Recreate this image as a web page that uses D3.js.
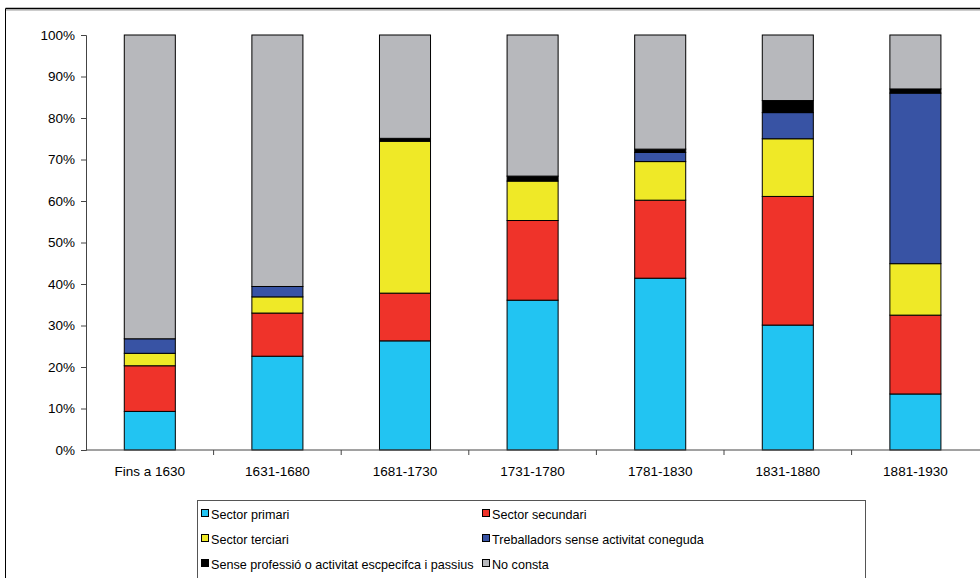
<!DOCTYPE html>
<html><head><meta charset="utf-8">
<script src="https://cdn.jsdelivr.net/npm/d3@7/dist/d3.min.js"></script>
<style>body{margin:0;background:#fff}svg{display:block;font-family:"Liberation Sans",Arial,sans-serif}</style>
</head><body><svg id="c" width="980" height="578"></svg>
<script>
const categories = ["Fins a 1630","1631-1680","1681-1730","1731-1780","1781-1830","1831-1880","1881-1930"];
const seriesNames = ["Sector primari","Sector secundari","Sector terciari","Treballadors sense activitat coneguda","Sense professió o activitat escpecífca i passius","No consta"];
const legendLabels = ["Sector primari","Sector secundari","Sector terciari","Treballadors sense activitat coneguda","Sense professió o activitat escpecifca i passius","No consta"];
const primari    = [9.3, 22.6, 26.3, 36.1, 41.4, 30.1, 13.5];
const secundari  = [11.0, 10.4, 11.5, 19.2, 18.8, 31.0, 19.0];
const terciari   = [3.0, 3.9, 36.6, 9.5, 9.3, 13.9, 12.4];
const treballadors = [3.5, 2.5, 0, 0, 2.2, 6.3, 41.1];
const senseProf  = [0, 0, 0.7, 1.2, 0.8, 2.9, 1.0];
const noConsta   = [73.2, 60.6, 24.9, 34.0, 27.5, 15.8, 13.0];
const yTicks = [0,10,20,30,40,50,60,70,80,90,100];
const colors = ["#22C4F2","#EF332A","#EFE927","#3853A4","#000000","#B7B8BC"];

const series = [primari, secundari, terciari, treballadors, senseProf, noConsta];
const svg = d3.select("#c");

// outer frame
svg.append("line").attr("x1",5.5).attr("x2",980).attr("y1",8.5).attr("y2",8.5).attr("stroke","#000").attr("stroke-width",1.5);
svg.append("line").attr("x1",5.5).attr("x2",980).attr("y1",10).attr("y2",10).attr("stroke","#999").attr("stroke-width",1);
svg.append("line").attr("x1",5.5).attr("x2",5.5).attr("y1",8.5).attr("y2",578).attr("stroke","#000").attr("stroke-width",1);

const x = d3.scaleBand().domain(categories).range([86, 979.2]).paddingInner(0.6).paddingOuter(0.3);
const xAxisScale = d3.scaleBand().domain(categories).range([86, 979.2]).padding(0);
const y = d3.scaleLinear().domain([0,100]).range([450, 35]);

// stacked data
const rows = categories.map((c,i)=>{const o={cat:c}; seriesNames.forEach((s,k)=>o[s]=series[k][i]); return o;});
const stack = d3.stack().keys(seriesNames)(rows);

svg.append("g").selectAll("g").data(stack).join("g")
  .attr("fill",(d,i)=>colors[i])
  .selectAll("rect").data(d=>d.filter(p=>p[1]-p[0]>0)).join("rect")
  .attr("x",d=>x(d.data.cat)).attr("width",x.bandwidth())
  .attr("y",d=>y(d[1])).attr("height",d=>y(d[0])-y(d[1]))
  .attr("stroke","#000").attr("stroke-width",1);

// y axis
const ya = svg.append("g").attr("transform","translate(86,0)")
  .call(d3.axisLeft(y).tickValues(yTicks).tickFormat(d=>d+"%").tickSizeOuter(0).tickSize(5).tickPadding(6));
ya.selectAll("text").attr("font-size",13.5).attr("fill","#000").attr("font-family","Liberation Sans, Arial, sans-serif");
ya.selectAll("line,path").attr("stroke","#444");

// x axis
const xa = svg.append("g").attr("transform","translate(0,450)");
xa.append("line").attr("x1",86).attr("x2",980).attr("y1",0).attr("y2",0).attr("stroke","#444");
xa.selectAll("line.t").data(categories.slice(1)).join("line").attr("class","t")
  .attr("x1",d=>xAxisScale(d)).attr("x2",d=>xAxisScale(d)).attr("y1",0).attr("y2",5).attr("stroke","#444");
xa.selectAll("text").data(categories).join("text")
  .attr("x",d=>x(d)+x.bandwidth()/2).attr("y",26).attr("text-anchor","middle")
  .attr("font-size",13.5).attr("fill","#000").text(d=>d);

// legend
svg.append("rect").attr("x",197.5).attr("y",500.5).attr("width",668).attr("height",90)
  .attr("fill","#fff").attr("stroke","#555").attr("stroke-width",1);
const lg = svg.append("g").selectAll("g").data(legendLabels).join("g")
  .attr("transform",(d,i)=>`translate(${i%2===0?201:482},${514+Math.floor(i/2)*25})`);
lg.append("rect").attr("x",0.5).attr("y",-4.5).attr("width",7).attr("height",7)
  .attr("fill",(d,i)=>colors[i]).attr("stroke","#000").attr("stroke-width",1);
lg.append("text").attr("x",10).attr("y",4.5).attr("font-size",12.6).attr("fill","#000").text(d=>d);
</script></body></html>
